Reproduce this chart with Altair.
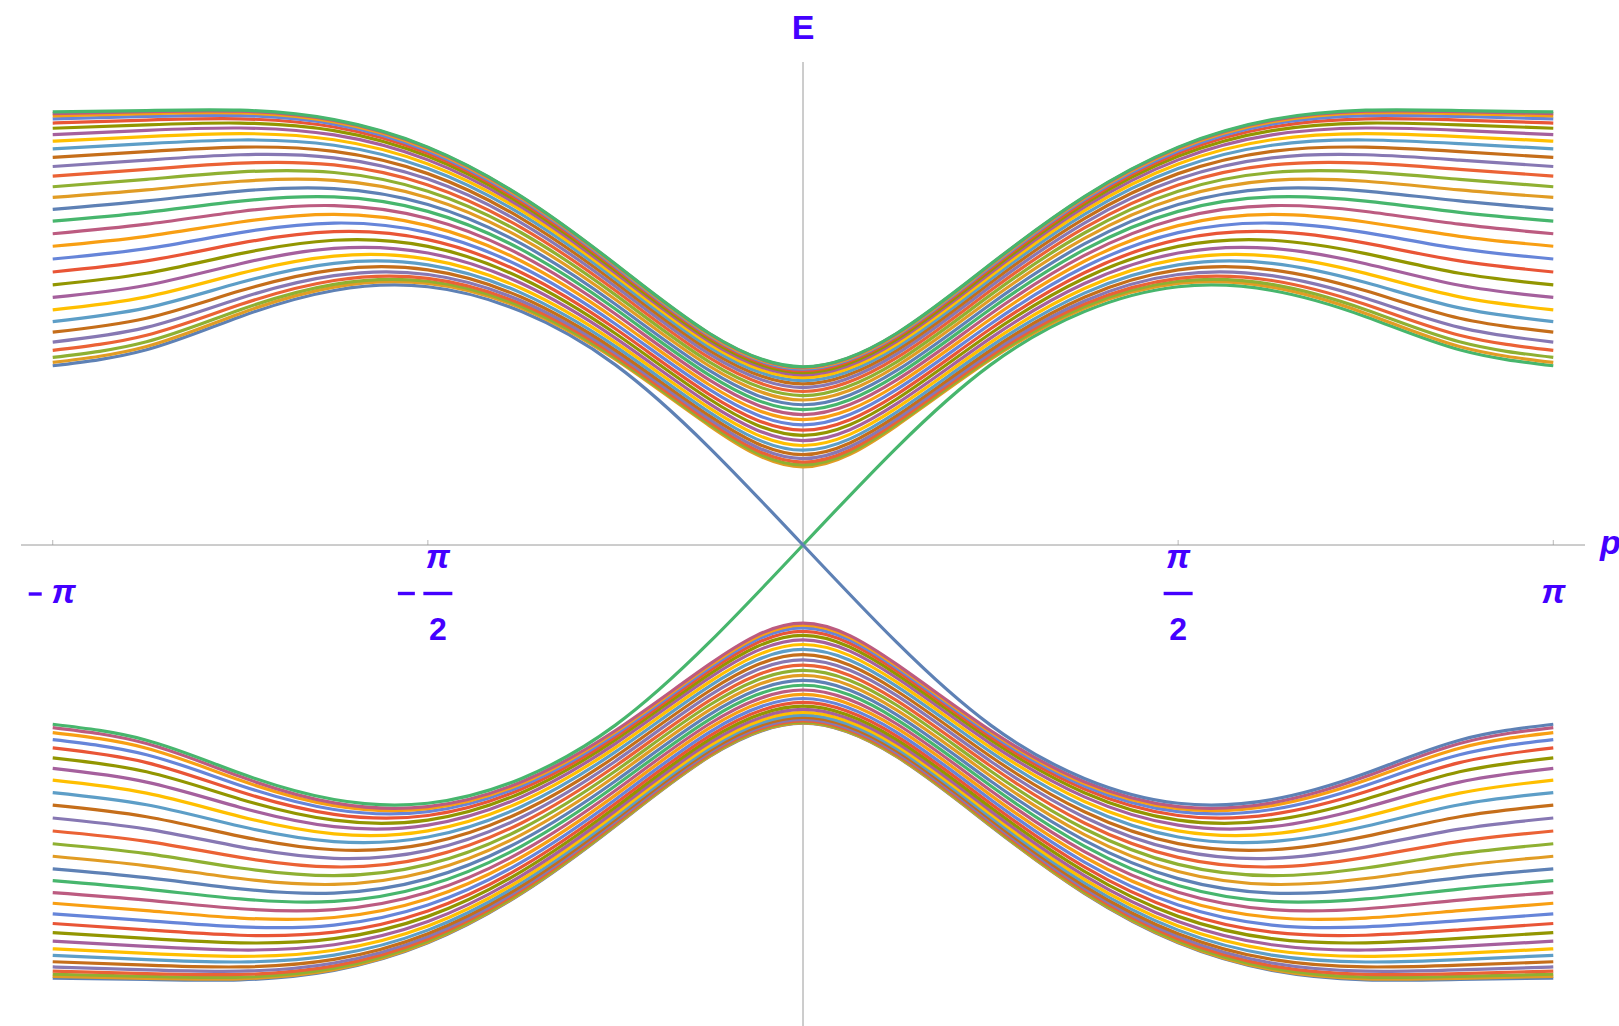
import math
import pandas as pd
import altair as alt

PI = math.pi

# Sampled momenta on 0 <= p <= pi, in units of pi/8 (bands are even in p).
P_EIGHTHS = [0, 1, 2, 3, 4, 5, 6, 7, 8]

# Upper bulk band: 29 levels, lowest to highest, at p = k*pi/8.
BULK_P0 = [0.613, 0.629, 0.651, 0.678, 0.709, 0.744, 0.781, 0.820, 0.861, 0.902,
           0.943, 0.984, 1.024, 1.063, 1.101, 1.138, 1.173, 1.205, 1.236, 1.265,
           1.291, 1.314, 1.335, 1.353, 1.368, 1.380, 1.390, 1.396, 1.399]
BULK_P1 = [0.937, 0.950, 0.967, 0.989, 1.015, 1.044, 1.076, 1.110, 1.146, 1.183,
           1.221, 1.258, 1.296, 1.333, 1.370, 1.405, 1.438, 1.470, 1.500, 1.528,
           1.554, 1.577, 1.598, 1.616, 1.631, 1.643, 1.652, 1.659, 1.662]
BULK_P2 = [1.456, 1.468, 1.485, 1.506, 1.530, 1.559, 1.590, 1.624, 1.660, 1.697,
           1.735, 1.774, 1.813, 1.852, 1.890, 1.927, 1.963, 1.997, 2.029, 2.059,
           2.087, 2.112, 2.135, 2.154, 2.171, 2.184, 2.195, 2.202, 2.205]
BULK_P3 = [1.858, 1.872, 1.891, 1.915, 1.944, 1.977, 2.013, 2.052, 2.094, 2.137,
           2.182, 2.227, 2.273, 2.318, 2.363, 2.407, 2.449, 2.489, 2.527, 2.562,
           2.595, 2.625, 2.651, 2.675, 2.694, 2.710, 2.722, 2.731, 2.735]
BULK_P4 = [2.053, 2.070, 2.093, 2.123, 2.159, 2.199, 2.244, 2.292, 2.344, 2.397,
           2.452, 2.507, 2.563, 2.619, 2.673, 2.726, 2.777, 2.826, 2.872, 2.915,
           2.955, 2.991, 3.023, 3.051, 3.074, 3.093, 3.108, 3.118, 3.123]
BULK_P5 = [2.024, 2.046, 2.076, 2.114, 2.160, 2.211, 2.268, 2.328, 2.392, 2.459,
           2.527, 2.595, 2.664, 2.732, 2.798, 2.862, 2.924, 2.983, 3.039, 3.090,
           3.138, 3.181, 3.219, 3.253, 3.281, 3.304, 3.321, 3.333, 3.339]
BULK_P6 = [1.818, 1.847, 1.887, 1.937, 1.995, 2.060, 2.132, 2.208, 2.287, 2.369,
           2.452, 2.535, 2.618, 2.699, 2.778, 2.855, 2.928, 2.997, 3.063, 3.123,
           3.179, 3.229, 3.273, 3.312, 3.345, 3.371, 3.392, 3.405, 3.413]
BULK_P7 = [1.558, 1.595, 1.646, 1.708, 1.780, 1.861, 1.948, 2.039, 2.133, 2.230,
           2.326, 2.423, 2.518, 2.611, 2.701, 2.787, 2.870, 2.948, 3.021, 3.088,
           3.150, 3.206, 3.255, 3.298, 3.335, 3.364, 3.386, 3.402, 3.410]
BULK_P8 = [1.433, 1.473, 1.528, 1.593, 1.671, 1.754, 1.846, 1.943, 2.042, 2.143,
           2.245, 2.345, 2.443, 2.542, 2.635, 2.728, 2.812, 2.896, 2.971, 3.042,
           3.110, 3.170, 3.221, 3.271, 3.312, 3.344, 3.369, 3.386, 3.399]
BULK = [BULK_P0, BULK_P1, BULK_P2, BULK_P3, BULK_P4,
        BULK_P5, BULK_P6, BULK_P7, BULK_P8]

# Chiral edge branch (positive for p > 0) at p = k*pi/8.
EDGE = [0.0, 0.765, 1.414, 1.832, 2.027, 1.998, 1.792, 1.532, 1.407]

# Mathematica's default plot palette, cycled over the 60 eigenvalue curves.
PALETTE = ["#5E81B5", "#E19C24", "#8FB032", "#EB6235", "#8778B3",
           "#C56E1A", "#5D9EC7", "#FFBF00", "#A5609D", "#929600",
           "#E95536", "#6685D9", "#F89F13", "#BC5B80", "#47B66D"]

TICK_VALUES = [-PI, -PI / 2, PI / 2, PI]

LABEL_COLOR = "#4400ff"
AXIS_GRAY = "#9a9a9a"
FONT = "Liberation Sans"

X_LIMIT = 3.2744
E_MIN, E_MAX = -3.7755, 3.7912

# ---- build the 60 eigenvalue curves -------------------------------------
cols = list(reversed(P_EIGHTHS[1:])) + P_EIGHTHS
signs = [-1] * (len(P_EIGHTHS) - 1) + [1] * len(P_EIGHTHS)

rows = []
series_ids, series_colors = [], []
for s in range(1, 61):
    sid = f"s{s:02d}"
    series_ids.append(sid)
    series_colors.append(PALETTE[(s - 1) % len(PALETTE)])
    for k, sg in zip(cols, signs):
        p = sg * k * PI / 8
        if s >= 32:          # upper bulk band
            e = BULK[k][s - 32]
        elif s <= 29:        # lower bulk band (mirror of the upper one)
            e = -BULK[k][29 - s]
        elif s == 30:        # edge state rising through p = 0
            e = sg * EDGE[k]
        else:                # edge state falling through p = 0
            e = -sg * EDGE[k]
        rows.append({"series": sid, "p": p, "E": e})

curves_df = pd.DataFrame(rows)

x_scale = alt.Scale(domain=[-X_LIMIT, X_LIMIT], nice=False, zero=False)
y_scale = alt.Scale(domain=[E_MIN, E_MAX], nice=False, zero=False)


def xq(field="p"):
    return alt.X(f"{field}:Q", scale=x_scale, axis=None)


def yq(field="E"):
    return alt.Y(f"{field}:Q", scale=y_scale, axis=None)


curves = alt.Chart(curves_df).mark_line(
    interpolate="natural", strokeWidth=3.2
).encode(
    x=xq(), y=yq(),
    color=alt.Color("series:N",
                    scale=alt.Scale(domain=series_ids, range=series_colors),
                    legend=None),
)

# ---- axes drawn through the origin --------------------------------------
origin_df = pd.DataFrame({"p": [0.0], "E": [0.0]})
h_axis = alt.Chart(origin_df).mark_rule(color=AXIS_GRAY, strokeWidth=1).encode(y=yq())
v_axis = alt.Chart(origin_df).mark_rule(color=AXIS_GRAY, strokeWidth=1).encode(x=xq())

ticks_df = pd.DataFrame({"p": TICK_VALUES, "E": [0.0] * len(TICK_VALUES)})
ticks = alt.Chart(ticks_df).mark_tick(
    orient="vertical", size=5, thickness=1, color=AXIS_GRAY, yOffset=-2.5
).encode(x=xq(), y=yq())


def at(p_values, e_value=0.0):
    return pd.DataFrame({"p": p_values, "E": [e_value] * len(p_values)})


def text_layer(df, txt, dx=0, dy=0, italic=True, align="center", size=32):
    return alt.Chart(df).mark_text(
        text=txt, font=FONT, fontSize=size, fontWeight="bold",
        fontStyle="italic" if italic else "normal", color=LABEL_COLOR,
        align=align, baseline="alphabetic", dx=dx, dy=dy,
    ).encode(x=xq(), y=yq())


def bar_layer(df, length, dx=0, dy=0):
    return alt.Chart(df).mark_tick(
        orient="horizontal", size=length, thickness=3.4, color=LABEL_COLOR,
        opacity=1, xOffset=dx, yOffset=dy,
    ).encode(x=xq(), y=yq())


labels = [
    # -pi
    bar_layer(at([-PI]), 13, dx=-17.5, dy=49),
    text_layer(at([-PI]), "π", dx=11, dy=58, size=34),
    # pi
    text_layer(at([PI]), "π", dy=58, size=34),
    # -pi/2
    bar_layer(at([-PI / 2]), 17, dx=-21.5, dy=48.5),
    text_layer(at([-PI / 2]), "π", dx=10, dy=23, size=34),
    bar_layer(at([-PI / 2]), 29, dx=10, dy=48.5),
    text_layer(at([-PI / 2]), "2", dx=10, dy=95, italic=False),
    # pi/2
    text_layer(at([PI / 2]), "π", dy=23, size=34),
    bar_layer(at([PI / 2]), 29, dy=48.5),
    text_layer(at([PI / 2]), "2", dy=95, italic=False),
    # axis names
    text_layer(at([0.0], E_MAX), "E", dy=-23, italic=False, size=34),
    text_layer(at([X_LIMIT]), "p", dx=15, dy=9, align="left", size=34),
]

chart = alt.layer(h_axis, v_axis, ticks, curves, *labels).properties(
    width=1564,
    height=964,
    padding={"left": 21, "top": 62, "right": 34, "bottom": 0},
    autosize=alt.AutoSizeParams(type="none"),
    background="white",
).configure_view(stroke=None)

chart.save("out.html", embed_options={"renderer": "svg", "actions": False})
